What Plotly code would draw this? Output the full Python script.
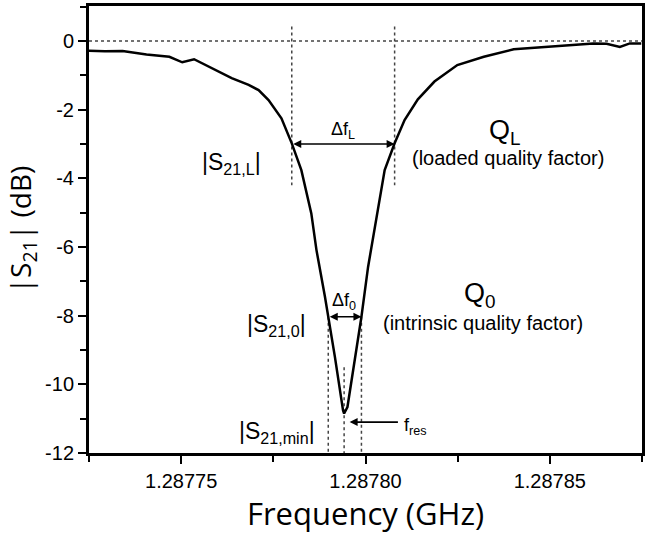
import plotly.graph_objects as go

# ---- data ----
freq_ghz = [1.2877250, 1.2877293, 1.2877341, 1.2877406, 1.2877468, 1.2877503, 1.2877535,
            1.2877584, 1.2877637, 1.2877683, 1.2877710, 1.2877737, 1.2877772, 1.2877800,
            1.2877826, 1.2877853, 1.2877867, 1.2877890, 1.2877899, 1.2877917, 1.2877939,
            1.2877942, 1.2877951, 1.2877971, 1.2877989, 1.2878007, 1.2878025, 1.2878038,
            1.2878052, 1.2878079, 1.2878106, 1.2878142, 1.2878187, 1.2878249, 1.2878321,
            1.2878402, 1.2878483, 1.2878564, 1.2878618, 1.2878654, 1.2878690, 1.2878717,
            1.2878748]
s21_db = [-0.28, -0.30, -0.29, -0.39, -0.46, -0.62, -0.53,
          -0.80, -1.08, -1.28, -1.43, -1.72, -2.25, -2.98,
          -3.76, -5.02, -6.09, -7.45, -8.03, -9.20, -10.75,
          -10.85, -10.66, -9.30, -8.03, -6.58, -5.40, -4.63,
          -3.76, -2.98, -2.30, -1.70, -1.18, -0.70, -0.46,
          -0.24, -0.18, -0.12, -0.07, -0.08, -0.17, -0.07,
          -0.07]

x_range = [1.287725, 1.287875]
y_range = [-12, 1.02]
x_ticks = [1.28775, 1.28780, 1.28785]
x_tick_labels = ["1.28775", "1.28780", "1.28785"]
y_ticks = [0, -2, -4, -6, -8, -10, -12]

# marker levels / frequencies
level_L = -3.0
level_0 = -8.03
f_L = [1.2877800, 1.2878079]
f_0 = [1.2877899, 1.2877989]
f_res = 1.2877942
vline_L_db = [0.42, -4.2]
vline_0_db = [level_0, -12]
vline_res_db = [-9.5, -12]
fres_arrow_db = -11.1
fres_arrow_from = 1.2878092
fres_arrow_to = 1.2877957

# text labels
label_text = ["|S<sub>21,L</sub>|", "Δf<sub>L</sub>", "Q<sub>L</sub>", "(loaded quality factor)",
              "Q<sub>0</sub>", "(intrinsic quality factor)", "|S<sub>21,0</sub>|",
              "|S<sub>21,min</sub>|", "Δf<sub>0</sub>", "f<sub>res</sub>"]
label_x = [1.2877637, 1.2877939, 1.2878379, 1.2878387, 1.2878311, 1.2878319, 1.2877759,
           1.2877759, 1.2877942, 1.2878098]
label_y = [-3.56, -2.62, -2.65, -3.42, -7.4, -8.2, -8.28, -11.4, -7.58, -11.22]
label_size = [23, 18, 27, 20, 27, 20, 23, 23, 18, 18]
label_anchor = ["center"] * 9 + ["left"]

fig = go.Figure()

dot = dict(color="#444", width=1.5, dash="dot")
fig.add_trace(go.Scatter(x=x_range, y=[0, 0], mode="lines", line=dot, hoverinfo="skip"))
for f in f_L:
    fig.add_trace(go.Scatter(x=[f, f], y=vline_L_db, mode="lines", line=dot, hoverinfo="skip"))
for f in f_0:
    fig.add_trace(go.Scatter(x=[f, f], y=vline_0_db, mode="lines", line=dot, hoverinfo="skip"))
fig.add_trace(go.Scatter(x=[f_res, f_res], y=vline_res_db, mode="lines", line=dot, hoverinfo="skip"))

fig.add_trace(go.Scatter(x=freq_ghz, y=s21_db, mode="lines",
                         line=dict(color="black", width=2.5)))

# arrows
arrow_common = dict(xref="x", yref="y", axref="x", ayref="y", text="", showarrow=True,
                    arrowhead=2, arrowsize=1, arrowwidth=1.6, arrowcolor="black")
fig.add_annotation(x=f_L[1], y=level_L, ax=f_L[0], ay=level_L, arrowside="end+start", **arrow_common)
fig.add_annotation(x=f_0[1], y=level_0, ax=f_0[0], ay=level_0, arrowside="end+start", **arrow_common)
fig.add_annotation(x=fres_arrow_to, y=fres_arrow_db, ax=fres_arrow_from, ay=fres_arrow_db, **arrow_common)

for lx, ly, t, s, a in zip(label_x, label_y, label_text, label_size, label_anchor):
    fig.add_annotation(x=lx, y=ly, text=t, showarrow=False, xref="x", yref="y", xanchor=a,
                       font=dict(family="Liberation Sans, Arial", size=s, color="black"))

axis_common = dict(showline=True, linewidth=3, linecolor="black", mirror=True,
                   ticks="outside", ticklen=8, tickwidth=2, tickcolor="black",
                   showgrid=False, zeroline=False,
                   tickfont=dict(family="Liberation Sans, Arial", size=20, color="black"))

fig.update_layout(
    width=646, height=535,
    margin=dict(l=89, r=1, t=6, b=82),
    paper_bgcolor="white", plot_bgcolor="white",
    showlegend=False,
    xaxis=dict(range=x_range, tickvals=x_ticks, ticktext=x_tick_labels,
               minor=dict(dtick=0.000025, tick0=1.28775, ticks="outside", ticklen=6,
                          tickwidth=2, tickcolor="black"),
               title=dict(text="Frequency (GHz)", standoff=6,
                          font=dict(family="Open Sans", size=31, color="black")),
               **axis_common),
    yaxis=dict(range=y_range, tickvals=y_ticks, ticktext=[str(v) for v in y_ticks],
               minor=dict(dtick=1, tick0=0, ticks="outside", ticklen=6,
                          tickwidth=2, tickcolor="black"),
               title=dict(text="|S<sub>21</sub>| (dB)", standoff=6,
                          font=dict(family="Open Sans", size=28, color="black")),
               **axis_common),
)

fig.write_html("out.html")
